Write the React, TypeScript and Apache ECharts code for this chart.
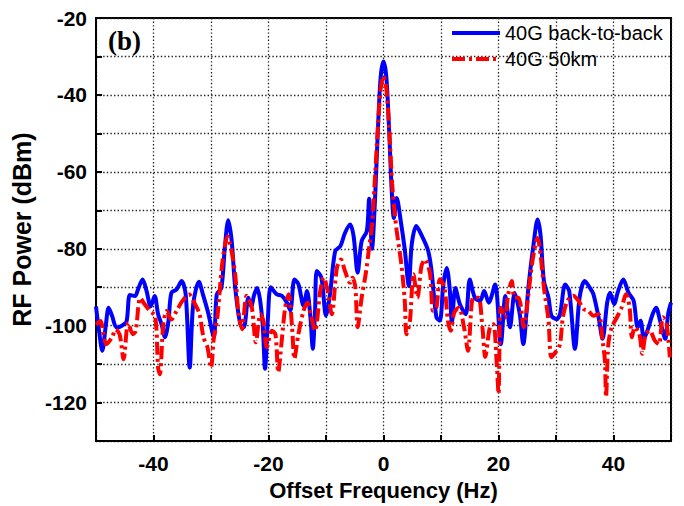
import React, { useEffect, useRef } from "react";
import * as echarts from "echarts";

const seriesNames = ["40G back-to-back", "40G 50km"];

const blueFreq = [
  -50.0, -49.5, -48.9, -48.3, -47.8, -47.2, -46.4, -45.5, -44.7, -44.1, -43.2, -42.7, -41.9, -41.2, -40.5,
  -39.8, -39.2, -38.6, -38.0, -37.4, -36.9, -36.0, -35.1, -34.4, -33.7, -33.1, -32.1, -31.4, -30.5, -29.5,
  -29.0, -28.2, -27.6, -27.0, -26.4, -25.8, -24.9, -24.3, -23.5, -23.0, -22.5, -22.0, -21.5, -21.0, -20.6,
  -20.1, -19.6, -18.6, -17.7, -16.8, -16.2, -15.5, -14.8, -13.9, -13.3, -12.7, -12.3, -11.9, -11.6, -10.8,
  -10.0, -9.3, -8.4, -7.5, -6.7, -5.8, -5.2, -4.5, -3.8, -2.9, -2.5, -2.0, -1.5, -1.0, -0.5,
  0, 0.5, 1.0, 1.4, 1.8, 2.3, 3.0, 3.7, 4.4, 4.9, 5.7, 6.6, 7.7, 8.3, 9.2,
  9.8, 10.4, 11.0, 11.5, 11.9, 12.5, 13.3, 14.3, 15.0, 15.9, 16.8, 17.5, 18.3, 19.4, 20.4,
  21.2, 22.0, 22.8, 23.7, 24.3, 25.2, 26.1, 26.8, 27.3, 27.9, 28.7, 29.2, 30.1, 30.7, 31.6,
  32.3, 33.3, 34.1, 35.0, 35.9, 36.5, 37.4, 38.1, 38.9, 39.4, 40.1, 40.8, 41.7, 42.6, 43.5,
  44.2, 44.7, 45.3, 46.1, 46.8, 47.4, 48.1, 49.0, 49.5, 50.0,
];
const bluePower = [
  -95, -101, -106.5, -100, -95.3, -97.5, -100.5, -100, -99, -92, -92.3, -90.6, -88, -91, -95,
  -92.3, -97, -99.6, -103, -98.8, -91.5, -90.6, -88.4, -91.9, -110.9, -94.5, -88.6, -91.9, -96.6, -103,
  -91.9, -90.2, -79.8, -72.6, -78, -90, -99.6, -100.4, -92.7, -95, -92, -90.2, -93, -100, -111.2,
  -98, -90, -91.8, -92.2, -94, -96, -88, -89.2, -94.8, -91, -98, -106, -96, -85.8, -87.5,
  -97.4, -91.8, -80.6, -79.3, -75.9, -73.7, -76.7, -86.2, -78, -75.4, -67, -80, -68, -50, -35.5,
  -31.3, -35.5, -50, -64, -72, -66.8, -72.8, -80.2, -89.7, -79, -74.1, -76.4, -80.2, -85, -97.8,
  -98.7, -89.3, -85, -90.2, -99.1, -90.2, -94.5, -97, -88, -92.8, -93.5, -91, -94, -89.3, -104.8,
  -92.3, -100.4, -91.5, -97, -104.8, -90, -78.8, -72.4, -76.3, -88.4, -92.7, -97.4, -98.3, -97, -89.3,
  -91, -106, -92.7, -88.4, -90.2, -91.8, -97.8, -103.4, -94, -91.4, -94.4, -91, -88, -91.4, -93.5,
  -100.4, -98.7, -103.4, -100.4, -97, -95.3, -98.7, -103.4, -97, -94,
];

const redFreq = [
  -50.0, -49.2, -48.7, -48.2, -47.2, -46.6, -45.9, -45.2, -44.4, -43.6, -43.1, -42.3, -41.5, -40.6, -39.7,
  -39.2, -38.9, -38.3, -37.7, -36.9, -36.0, -35.0, -33.8, -32.9, -32.0, -31.3, -30.6, -30.0, -29.5, -28.9,
  -28.0, -27.1, -26.5, -25.8, -25.2, -24.6, -23.8, -22.9, -22.2, -21.4, -20.9, -20.3, -19.4, -18.8, -18.3,
  -17.7, -17.1, -16.5, -15.9, -15.5, -14.8, -13.9, -13.2, -12.6, -11.9, -11.0, -10.4, -9.7, -9.0, -8.1,
  -7.4, -6.7, -5.8, -5.4, -4.9, -4.5, -3.8, -3.1, -2.5, -2.0, -1.5, -1.0, -0.5, 0, 0.5,
  1.0, 1.5, 1.9, 2.3, 3.1, 3.7, 4.0, 4.6, 5.2, 5.9, 6.6, 7.2, 8.1, 8.6, 9.2,
  9.8, 10.6, 11.2, 11.7, 12.3, 13.1, 14.0, 14.7, 15.6, 16.5, 17.2, 17.7, 18.5, 19.1, 19.7,
  20.0, 20.4, 21.1, 21.7, 22.3, 22.8, 23.5, 24.4, 25.2, 25.9, 26.8, 27.3, 27.9, 28.7, 29.2,
  30.1, 30.7, 31.2, 32.0, 33.0, 33.9, 34.8, 35.6, 36.5, 37.4, 38.1, 38.5, 38.7, 39.1, 39.7,
  40.6, 41.4, 42.2, 42.8, 43.2, 43.7, 44.5, 45.0, 45.6, 46.3, 47.2, 47.9, 48.6, 49.2, 49.8,
];
const redPower = [
  -99.7, -98.8, -102.2, -104.8, -103, -101, -102.2, -108.7, -99.2, -102.2, -101.4, -92.8, -94.5, -96.2, -97.5,
  -110.9, -112.6, -99.7, -96.2, -98.4, -96.2, -93.6, -91.9, -94, -97, -103.1, -105.7, -110.9, -103.1, -97.9,
  -83.3, -76.8, -80, -86.6, -97, -100.9, -92.2, -95.3, -104.3, -97, -98.7, -105.6, -101.3, -102.2, -112.1,
  -103.9, -95.3, -91.8, -100.4, -108.6, -102.2, -96.1, -94, -97.4, -101.3, -91, -87.5, -91, -97, -84.9,
  -82.8, -85.8, -88.8, -87.5, -90, -100.4, -92.7, -86.6, -79.7, -73.7, -62, -49, -38.5, -35.1, -38.5,
  -49, -63, -70, -75.4, -84, -93.6, -102.2, -98.7, -86.6, -92.7, -84.5, -82.8, -86.6, -96.1, -95.3,
  -87.9, -90.2, -98.7, -101.3, -96.6, -95.3, -100.4, -106.5, -92.7, -92.7, -100.4, -108.1, -100.4, -99.6, -110,
  -117.7, -95.3, -97.9, -91.8, -88.4, -92.7, -92.7, -100.4, -91.8, -83.2, -77.2, -81.5, -90.1, -98.7, -108.2,
  -106.5, -104.8, -97.8, -93.5, -92.2, -93.5, -95.7, -96.1, -97.4, -97, -103.9, -109, -118.5, -104.8, -100.4,
  -97.8, -95.3, -91.8, -95.3, -103, -100.4, -102.2, -107.3, -102.2, -101.3, -103.9, -104.8, -97.8, -99.1, -108.2,
];

const panelLabel = "(b)";
const xName = "Offset Frequency (Hz)";
const yName = "RF Power (dBm)";

const zip = (xs: number[], ys: number[]) => xs.map((x, i) => [x, ys[i]]);

export default function App() {
  const ref = useRef<HTMLDivElement>(null);
  useEffect(() => {
    if (!ref.current) return;
    const chart = echarts.init(ref.current, null, { renderer: "svg" });
    const font = "Liberation Sans, Arial, sans-serif";
    const splitLine = {
      show: true,
      lineStyle: { color: "#222", width: 1.3, type: [1.4, 2.2] as any },
    };
    chart.setOption({
      animation: false,
      backgroundColor: "#fff",
      grid: {
        left: 96,
        right: 13,
        top: 18,
        bottom: 62,
        show: true,
        borderColor: "#000",
        borderWidth: 2,
        backgroundColor: "transparent",
      },
      legend: {
        orient: "vertical",
        left: 450,
        top: 23,
        padding: 0,
        itemWidth: 48,
        itemHeight: 20,
        itemGap: 6,
        itemStyle: { opacity: 0 },
        lineStyle: { width: 4 },
        textStyle: { fontFamily: font, fontSize: 20, color: "#000", lineHeight: 20 },
        data: seriesNames,
      },
      graphic: [
        {
          type: "text",
          left: 108,
          top: 27,
          style: {
            text: panelLabel,
            font: "bold 27px 'Liberation Serif', 'Times New Roman', serif",
            fill: "#000",
          },
        },
      ],
      xAxis: {
        type: "value",
        min: -50,
        max: 50,
        interval: 10,
        name: xName,
        nameLocation: "middle",
        nameGap: 36,
        nameTextStyle: { fontFamily: font, fontSize: 22, fontWeight: "bold", color: "#000" },
        axisLine: { show: true, onZero: false, lineStyle: { color: "#000", width: 2 } },
        axisTick: { show: true, inside: true, length: 6, lineStyle: { color: "#000", width: 2 } },
        axisLabel: {
          margin: 12,
          fontFamily: font,
          fontSize: 21,
          fontWeight: "bold",
          color: "#000",
          formatter: (v: number) => (v % 20 === 0 && Math.abs(v) < 50 ? String(v) : ""),
        },
        splitLine,
      },
      yAxis: {
        type: "value",
        min: -130,
        max: -20,
        interval: 10,
        name: yName,
        nameLocation: "middle",
        nameGap: 52,
        nameTextStyle: { fontFamily: font, fontSize: 25, fontWeight: "bold", color: "#000" },
        axisLine: { show: true, onZero: false, lineStyle: { color: "#000", width: 2 } },
        axisTick: { show: true, inside: true, length: 6, lineStyle: { color: "#000", width: 2 } },
        axisLabel: {
          margin: 9,
          fontFamily: font,
          fontSize: 21,
          fontWeight: "bold",
          color: "#000",
          formatter: (v: number) => (v % 20 === 0 ? String(v) : ""),
        },
        splitLine,
      },
      series: [
        {
          name: seriesNames[0],
          type: "line",
          data: zip(blueFreq, bluePower),
          symbol: "none",
          smooth: 0.3,
          lineStyle: { color: "#0000ff", width: 4 },
          itemStyle: { color: "#0000ff" },
          z: 2,
        },
        {
          name: seriesNames[1],
          type: "line",
          data: zip(redFreq, redPower),
          symbol: "none",
          smooth: 0.3,
          lineStyle: { color: "#ff0000", width: 4, type: [13, 4, 3, 4] as any },
          itemStyle: { color: "#ff0000" },
          z: 3,
        },
      ],
    });
    return () => chart.dispose();
  }, []);
  return (
    <div
      ref={ref}
      style={{ position: "fixed", left: 0, top: 0, width: 684, height: 506, background: "#fff" }}
    />
  );
}
